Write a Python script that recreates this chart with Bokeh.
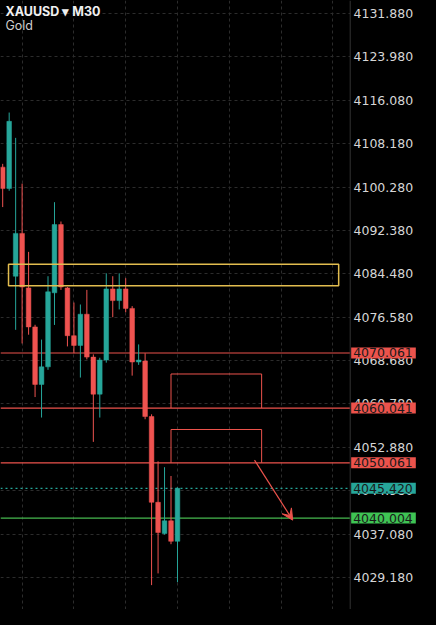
from bokeh.plotting import figure
from bokeh.models import (ColumnDataSource, FixedTicker, Label, Arrow,
                          VeeHead, Span, Range1d, PrintfTickFormatter, BoxAnnotation)
from bokeh.embed import file_html
from bokeh.resources import INLINE

# ---------------- data ----------------
symbol = "XAUUSD"
timeframe = "M30"
instrument = "Gold"

opens = [4103.90, 4100.00, 4084.04, 4091.84, 4081.91, 4074.81, 4064.34, 4067.54,
         4081.02, 4093.44, 4081.91, 4073.21, 4071.44, 4077.12, 4069.31, 4062.57,
         4068.78, 4081.73, 4079.60, 4081.73, 4078.18, 4068.42, 4068.60, 4058.49,
         4042.88, 4037.20, 4039.51, 4035.78]
highs = [4104.50, 4113.84, 4109.23, 4100.89, 4088.47, 4075.20, 4072.50, 4084.04,
         4097.52, 4094.00, 4082.08, 4079.25, 4078.89, 4081.55, 4069.80, 4069.20,
         4084.57, 4084.04, 4084.57, 4083.68, 4078.60, 4071.62, 4070.02, 4058.90,
         4050.33, 4049.27, 4047.67, 4045.60]
lows = [4096.63, 4099.60, 4074.28, 4071.80, 4073.39, 4062.04, 4058.31, 4067.00,
        4075.17, 4081.55, 4071.26, 4070.02, 4065.59, 4068.90, 4053.88, 4058.31,
        4068.30, 4076.58, 4078.00, 4077.47, 4065.94, 4067.90, 4058.00, 4027.80,
        4029.93, 4037.00, 4035.25, 4028.33]
closes = [4100.00, 4112.24, 4091.84, 4082.08, 4074.81, 4064.34, 4067.54, 4081.20,
          4093.44, 4082.08, 4073.21, 4071.44, 4077.12, 4069.31, 4062.57, 4068.78,
          4081.73, 4079.60, 4081.73, 4078.18, 4068.42, 4068.78, 4058.49, 4042.88,
          4037.38, 4039.51, 4035.78, 4045.42]

price_ticks = [4131.88, 4123.98, 4116.08, 4108.18, 4100.28, 4092.38, 4084.48,
               4076.58, 4068.68, 4060.78, 4052.88, 4044.98, 4037.08, 4029.18]
time_grid = [3, 11, 19, 27, 35, 43, 51]

red_levels = [4070.061, 4060.041, 4050.061]
last_price = 4045.420
green_level = 4040.004

zone_x = [0.9, 51.9]
zone_y = [4082.31, 4086.22]

box_x = [26, 40]
box_tops = [4066.24, 4056.13]
box_bottoms = [4060.041, 4050.061]

arrow_from = (38.9, 4050.56)
arrow_to = (44.8, 4039.63)

# ---------------- style ----------------
UP = "#26a69a"
DOWN = "#ef5350"
LEVEL_RED = "#ec534c"
GREEN = "#46b94f"
GRID = "#2c2c2c"
FONT = "Inter"
SCALE_FONT = "DejaVu Sans"

W, H = 420, 609
X0, X1 = -0.34, 64.54          # whole canvas width in bar units
SCALE_EDGE = 53.68             # where the price scale begins

idx = list(range(len(opens)))
colors = [UP if c >= o else DOWN for o, c in zip(opens, closes)]
src = ColumnDataSource(dict(
    x=idx, o=opens, h=highs, l=lows, c=closes,
    top=[max(o, c) for o, c in zip(opens, closes)],
    bottom=[min(o, c) for o, c in zip(opens, closes)],
    color=colors))

p = figure(width=W, height=H, output_backend="svg", toolbar_location=None,
           x_range=Range1d(X0, X1), y_range=Range1d(4023.36, 4134.24),
           x_axis_location=None, y_axis_location="right",
           min_border_left=0, min_border_top=0, min_border_bottom=0,
           min_border_right=0)
p.background_fill_color = "black"
p.border_fill_color = "black"
p.outline_line_color = None

# price axis, labels drawn back over the right part of the frame
ax = p.yaxis[0]
ax.ticker = FixedTicker(ticks=price_ticks)
ax.formatter = PrintfTickFormatter(format="%.3f")
ax.major_label_text_color = "#d6d6d6"
ax.major_label_text_font = SCALE_FONT
ax.major_label_text_font_size = "12.5px"
ax.major_label_standoff = -67
ax.major_tick_line_color = None
ax.major_tick_out = 0
ax.major_tick_in = 0
ax.minor_tick_line_color = None
ax.axis_line_color = None

p.ygrid.grid_line_color = GRID
p.ygrid.grid_line_dash = "3 3"
p.xgrid.ticker = FixedTicker(ticks=time_grid)
p.xgrid.grid_line_color = GRID
p.xgrid.grid_line_dash = "3 3"

# horizontal levels (under the candles)
for lv in red_levels:
    p.add_layout(Span(location=lv, dimension="width", line_color=LEVEL_RED,
                      line_width=1.2, level="underlay"))
p.add_layout(Span(location=last_price, dimension="width", line_color=UP,
                  line_width=1.2, line_dash="2 3", level="underlay"))
p.add_layout(Span(location=green_level, dimension="width", line_color=GREEN,
                  line_width=1.2, level="underlay"))

# candles
p.segment(x0="x", y0="h", x1="x", y1="l", color="color", line_width=1, source=src)
p.vbar(x="x", width=0.72, top="top", bottom="bottom", fill_color="color",
       line_color="color", line_width=0.5, source=src)

# price-scale background and separator
p.add_layout(BoxAnnotation(left=SCALE_EDGE, fill_color="black", fill_alpha=1,
                           line_alpha=0, level="glyph"))
p.add_layout(Span(location=SCALE_EDGE, dimension="height", line_color="#333333",
                  line_width=1, level="glyph"))

# yellow zone
p.add_layout(BoxAnnotation(left=zone_x[0], right=zone_x[1], bottom=zone_y[0], top=zone_y[1],
                           fill_alpha=0, line_color="#e2bd4f", line_alpha=1,
                           line_width=1.5))

# open-bottom boxes (three-sided outlines)
for t, b in zip(box_tops, box_bottoms):
    p.line(x=[box_x[0], box_x[0], box_x[1], box_x[1]], y=[b, t, t, b],
           line_color=LEVEL_RED, line_width=1)

# arrow
p.add_layout(Arrow(end=VeeHead(size=11, fill_color=LEVEL_RED, line_color=LEVEL_RED),
                   x_start=arrow_from[0], y_start=arrow_from[1],
                   x_end=arrow_to[0], y_end=arrow_to[1],
                   line_color=LEVEL_RED, line_width=1.2))

# price badges on the scale (drawn last, over the axis labels)
def badge(level, bg):
    p.add_layout(Label(x=SCALE_EDGE + 0.15, y=level, text=f"{level:.3f}",
                       text_align="left", text_baseline="middle", text_color="#1a1a1a",
                       text_font=SCALE_FONT, text_font_size="12.5px",
                       background_fill_color=bg, level="overlay",
                       padding=dict(left=2, right=3, top=1, bottom=1)))
for lv in red_levels:
    badge(lv, LEVEL_RED)
badge(last_price, UP)
badge(green_level, "#3fc454")

# header texts
p.add_layout(Label(x=5, y=H - 11, x_units="screen", y_units="screen",
                   text=f"{symbol} \u25be {timeframe}", text_color="#f0f0f0",
                   text_font=FONT, text_font_size="12.5px", text_font_style="bold",
                   text_baseline="middle"))
p.add_layout(Label(x=5, y=H - 25, x_units="screen", y_units="screen",
                   text=instrument, text_color="#cfcfcf",
                   text_font=FONT, text_font_size="12.5px", text_baseline="middle"))

html = file_html(p, INLINE)
html = html.replace("<head>", "<head><style>html,body{background:#000;}</style>", 1)
open("out.html", "w").write(html)
